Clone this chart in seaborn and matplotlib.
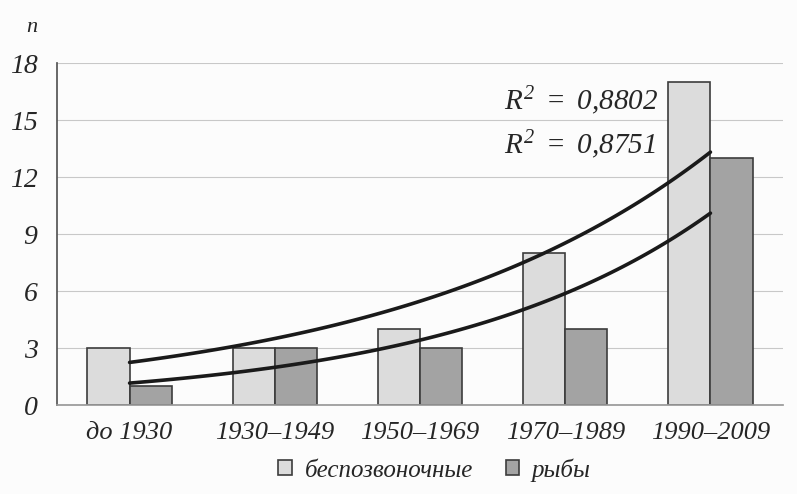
import numpy as np
import pandas as pd
import matplotlib
matplotlib.use('Agg')
import matplotlib.pyplot as plt
import seaborn as sns

periods = ['до 1930', '1930–1949', '1950–1969', '1970–1989', '1990–2009']
invertebrates = [3, 3, 4, 8, 17]
fish = [1, 3, 3, 4, 13]
series_names = ['беспозвоночные', 'рыбы']
r2_labels = ['0,8802', '0,8751']
y_ticks = [0, 3, 6, 9, 12, 15, 18]

sns.set_theme(style='white')
plt.rcParams['font.family'] = ['Liberation Serif', 'DejaVu Serif']
plt.rcParams['font.style'] = 'italic'
plt.rcParams['mathtext.fontset'] = 'custom'
plt.rcParams['mathtext.rm'] = 'Liberation Serif:italic'
plt.rcParams['mathtext.it'] = 'Liberation Serif:italic'

df = pd.DataFrame({
    'period': periods * 2,
    'count': invertebrates + fish,
    'group': [series_names[0]] * 5 + [series_names[1]] * 5,
})

fig = plt.figure(figsize=(7.97, 4.94), dpi=100, facecolor='#fcfcfc')
ax = fig.add_axes([0.0715, 0.18, 0.911, 0.692])
ax.set_facecolor('#fcfcfc')

sns.barplot(data=df, x='period', y='count', hue='group', ax=ax,
            palette=['#dcdcdc', '#a3a3a3'], width=0.58,
            edgecolor='#3c3c3c', linewidth=1.2, saturation=1, legend=True)

# exponential trendlines, fitted like Excel does
xs = np.linspace(0, 4, 100)
for vals in [invertebrates, fish]:
    b, a = np.polyfit(np.arange(5), np.log(vals), 1)
    ax.plot(xs, np.exp(a + b * xs), color='#1a1a1a', lw=2.6, zorder=5)

ax.set_ylim(0, 18)
ax.set_xlim(-0.5, 4.5)
ax.set_yticks(y_ticks)
ax.set_yticklabels([str(t) for t in y_ticks], fontsize=20)
ax.tick_params(axis='x', labelsize=19, length=0, pad=12)
ax.tick_params(axis='y', length=0, pad=14)
ax.set_xticks(np.arange(-0.5, 5, 1), minor=True)
ax.tick_params(axis='x', which='minor', length=5, color='#888888', direction='out')
ax.yaxis.grid(True, color='#c8c8c8', lw=0.8)
ax.set_axisbelow(True)
ax.set_xlabel('')
ax.set_ylabel('')

for side in ['top', 'right']:
    ax.spines[side].set_visible(False)
ax.spines['left'].set_color('#555555')
ax.spines['bottom'].set_color('#999999')

fig.text(0.04, 0.945, 'n', fontsize=16, ha='center', va='center')
ax.text(2.58, 16.05, r'$R^2\ =\ $' + r'$%s$' % r2_labels[0].replace(',', '{,}'),
        fontsize=21, va='center')
ax.text(2.58, 13.7, r'$R^2\ =\ $' + r'$%s$' % r2_labels[1].replace(',', '{,}'),
        fontsize=21, va='center')

ax.legend(loc='center', bbox_to_anchor=(0.52, -0.19), ncol=2, frameon=False,
          fontsize=18, handlelength=0.55, handleheight=0.55, handletextpad=0.5,
          columnspacing=1.3)

fig.savefig('out.png', dpi=100, facecolor=fig.get_facecolor())
